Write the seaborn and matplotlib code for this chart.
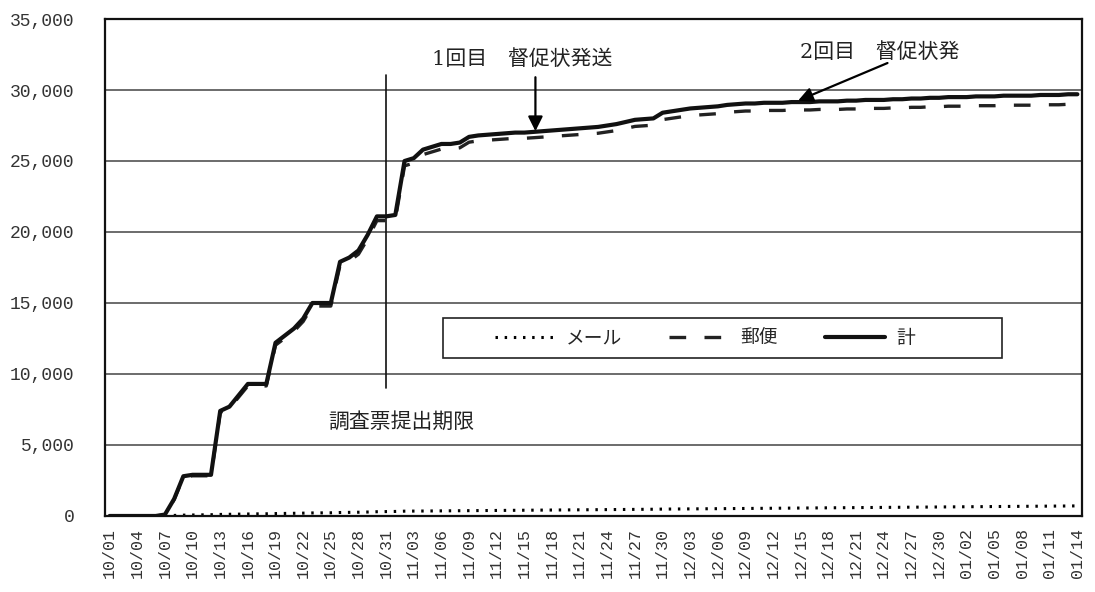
import matplotlib
matplotlib.use("Agg")
import matplotlib.pyplot as plt
from matplotlib.ticker import FuncFormatter
from matplotlib.patches import Rectangle
import seaborn as sns
import pandas as pd

# daily categories 10/01 .. 01/14
dates = pd.date_range("2011-10-01", "2012-01-14", freq="D")
date_labels = [d.strftime("%m/%d") for d in dates]

# cumulative totals
total = [0, 0, 0, 0, 0, 0, 100, 1200, 2800, 2900,
         2900, 2900, 7400, 7700, 8500, 9300, 9300, 9300, 12200, 12700,
         13200, 13900, 15000, 15000, 15000, 17900, 18200, 18700, 19800, 21100,
         21100, 21200, 25000, 25200, 25800, 26000, 26200, 26200, 26300, 26700,
         26800, 26850, 26900, 26950, 27000, 27000, 27050, 27100, 27150, 27200,
         27250, 27300, 27350, 27400, 27500, 27600, 27750, 27900, 27950, 28000,
         28400, 28500, 28600, 28700, 28750, 28800, 28850, 28950, 29000, 29050,
         29050, 29100, 29100, 29100, 29150, 29150, 29150, 29200, 29200, 29200,
         29250, 29250, 29300, 29300, 29300, 29350, 29350, 29400, 29400, 29450,
         29450, 29500, 29500, 29500, 29550, 29550, 29550, 29600, 29600, 29600,
         29600, 29650, 29650, 29650, 29700, 29700]

postal = [0, 0, 0, 0, 0, 0, 80, 1160, 2740, 2830,
          2830, 2830, 7290, 7580, 8370, 9160, 9160, 9160, 12030, 12520,
          13010, 13700, 14785, 14785, 14785, 17655, 17945, 18435, 19520, 20800,
          20800, 20880, 24660, 24855, 25450, 25645, 25840, 25840, 25930, 26325,
          26420, 26465, 26510, 26555, 26600, 26600, 26640, 26685, 26730, 26775,
          26820, 26865, 26910, 26955, 27050, 27145, 27290, 27435, 27480, 27525,
          27915, 28010, 28105, 28200, 28245, 28290, 28335, 28430, 28475, 28520,
          28520, 28560, 28560, 28560, 28595, 28595, 28595, 28630, 28630, 28630,
          28665, 28665, 28705, 28705, 28705, 28740, 28740, 28780, 28780, 28820,
          28820, 28860, 28860, 28860, 28895, 28895, 28895, 28930, 28930, 28930,
          28930, 28960, 28960, 28960, 28995, 28995]

mail = [0, 0, 0, 0, 0, 0, 20, 40, 60, 70,
        80, 90, 110, 120, 130, 140, 150, 155, 170, 180,
        190, 200, 215, 220, 225, 245, 255, 265, 280, 300,
        310, 320, 340, 345, 350, 355, 360, 365, 370, 375,
        380, 385, 390, 395, 400, 405, 410, 415, 420, 425,
        430, 435, 440, 445, 450, 455, 460, 465, 470, 475,
        485, 490, 495, 500, 505, 510, 515, 520, 525, 530,
        535, 540, 545, 550, 555, 560, 565, 570, 575, 580,
        585, 590, 595, 600, 605, 610, 615, 620, 625, 630,
        635, 640, 645, 650, 655, 660, 665, 670, 675, 680,
        685, 690, 695, 700, 705, 710]

series_names = ["メール", "郵便", "計"]
deadline = "10/31"
notes = ["調査票提出期限", "1回目\u3000督促状発送", "2回目\u3000督促状発"]

df = pd.DataFrame({"idx": range(len(date_labels)), "date": date_labels,
                   "mail": mail, "postal": postal, "total": total})

sns.set_theme(style="white")
plt.rcParams["font.family"] = ["Noto Sans CJK JP", "DejaVu Sans"]

fig = plt.figure(figsize=(10.95, 5.92), dpi=100, facecolor="white")
ax = fig.add_axes([0.0959, 0.1284, 0.8922, 0.8395])

sns.lineplot(data=df, x="idx", y="mail", ax=ax, color="#000000", lw=2.2,
             label=series_names[0])
sns.lineplot(data=df, x="idx", y="postal", ax=ax, color="#222222", lw=2.4,
             label=series_names[1])
sns.lineplot(data=df, x="idx", y="total", ax=ax, color="#111111", lw=3.0,
             label=series_names[2])
lines = ax.get_lines()
lines[0].set_linestyle((0, (0.8, 2.2)))
lines[1].set_linestyle((0, (5, 5.5)))

ax.set_xlim(-0.5, len(date_labels) - 0.5)
ax.set_ylim(0, 35000)
ax.set_yticks(range(0, 35001, 5000))
ax.yaxis.set_major_formatter(FuncFormatter(lambda v, p: f"{int(v):,}"))
ax.set_xticks(range(0, len(date_labels), 3))
ax.set_xticklabels(date_labels[::3], rotation=90)
ax.set_xlabel("")
ax.set_ylabel("")
for lab in ax.get_xticklabels() + ax.get_yticklabels():
    lab.set_family("Liberation Mono")
    lab.set_color("#333333")
ax.tick_params(axis="y", length=0, pad=22, labelsize=13)
ax.tick_params(axis="x", length=0, pad=9, labelsize=12)

ax.grid(axis="y", color="#444444", lw=1.1)
ax.grid(axis="x", visible=False)
for s in ax.spines.values():
    s.set_color("#111111")
    s.set_linewidth(1.6)

# deadline line and notes
dl = date_labels.index(deadline)
ax.axvline(dl, ymin=0.2575, ymax=0.887, color="#111111", lw=1.2)
jp = ["DejaVu Serif", "Noto Sans CJK JP"]
ax.text(dl - 6.3, 6600, notes[0], family=jp, fontsize=15, color="#222222",
        ha="left", va="center")
ax.text(35, 32200, notes[1], family=jp, fontsize=15, color="#222222",
        ha="left", va="center")
ax.text(74.9, 32700, notes[2], family=jp, fontsize=15, color="#222222",
        ha="left", va="center")
arrow = dict(arrowstyle="-|>", color="black", lw=1.6, mutation_scale=22,
             shrinkA=0, shrinkB=0)
ax.annotate("", xy=(46.2, 27100), xytext=(46.2, 30900), arrowprops=arrow)
ax.annotate("", xy=(74.7, 29250), xytext=(84.4, 31900), arrowprops=arrow)

# legend box drawn separately so the entries sit left of centre like the original
ax.add_patch(Rectangle((0.346, 0.318), 0.572, 0.0805, transform=ax.transAxes,
                       facecolor="white", edgecolor="#222222", lw=1.2,
                       zorder=4))
leg = ax.legend(loc="center left", bbox_to_anchor=(0.399, 0.358), ncol=3,
                frameon=False, fontsize=13.5, handlelength=3.2,
                handletextpad=0.6, columnspacing=2.5, borderpad=0,
                borderaxespad=0)
leg.set_zorder(5)

fig.savefig("out.png", dpi=100, facecolor="white")
